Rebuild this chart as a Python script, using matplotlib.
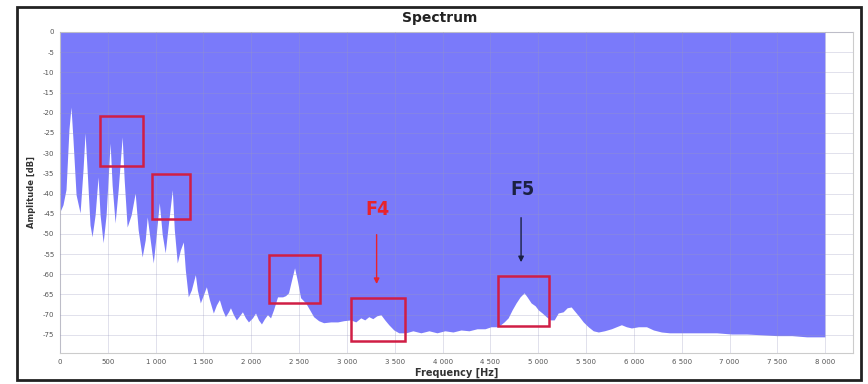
import matplotlib
matplotlib.use("Agg")
import matplotlib.pyplot as plt
from matplotlib.patches import Rectangle
from matplotlib.ticker import FuncFormatter

# ---- data ----
freq_hz = [0, 31, 63, 94, 115, 136, 168, 210, 241, 262, 283, 314, 335, 367, 398, 419, 451, 482,
           524, 545, 576, 608, 650, 671, 702, 744, 786, 817, 859, 891, 912, 943, 975, 1006,
           1038, 1069, 1100, 1132, 1174, 1195, 1226, 1258, 1289, 1310, 1341, 1373, 1415, 1436,
           1467, 1499, 1530, 1562, 1603, 1635, 1666, 1698, 1729, 1761, 1782, 1813, 1844, 1876,
           1907, 1939, 1970, 2012, 2044, 2075, 2106, 2138, 2169, 2201, 2232, 2274, 2327, 2358,
           2389, 2421, 2452, 2484, 2515, 2568, 2610, 2651, 2704, 2756, 2830, 2903, 2966, 3039,
           3092, 3144, 3186, 3228, 3270, 3311, 3354, 3395, 3437, 3490, 3542, 3616, 3689, 3773,
           3857, 3941, 4024, 4108, 4192, 4276, 4360, 4443, 4506, 4580, 4643, 4685, 4727, 4768,
           4810, 4852, 4883, 4925, 4967, 4999, 5041, 5083, 5124, 5166, 5208, 5260, 5302, 5344,
           5386, 5428, 5470, 5522, 5575, 5628, 5691, 5764, 5816, 5869, 5921, 5974, 6047, 6131,
           6204, 6288, 6372, 6466, 6602, 6739, 6864, 7022, 7179, 7336, 7493, 7650, 7807, 7996]
amp_db = [-44.5, -42.8, -39.0, -24.0, -18.6, -26.7, -40.3, -44.8, -34.0, -25.0, -34.0, -47.8,
          -50.7, -45.3, -35.9, -45.3, -52.2, -45.3, -27.5, -37.9, -47.3, -39.1, -26.0, -36.6,
          -48.3, -45.3, -39.9, -49.0, -55.7, -51.5, -45.8, -51.5, -57.2, -50.2, -42.3, -50.2,
          -54.7, -47.8, -39.1, -49.0, -57.2, -54.0, -52.0, -58.9, -65.6, -63.9, -60.1, -63.9,
          -67.1, -65.1, -63.1, -66.3, -69.6, -67.6, -66.3, -68.8, -70.5, -69.3, -68.3, -70.0,
          -71.3, -70.3, -69.3, -70.8, -71.8, -70.8, -69.6, -71.3, -72.3, -71.0, -70.0, -70.8,
          -68.8, -65.6, -65.6, -65.3, -64.6, -61.4, -58.4, -61.9, -65.8, -67.1, -68.8, -70.5,
          -71.5, -72.0, -71.8, -71.8, -71.5, -71.3, -71.8, -70.8, -71.3, -70.5, -71.0, -70.3,
          -70.0, -71.3, -72.5, -73.8, -74.5, -74.5, -74.0, -74.5, -74.0, -74.5, -74.0, -74.3,
          -73.8, -74.0, -73.5, -73.5, -73.0, -73.0, -71.8, -70.8, -68.8, -67.1, -65.6, -64.6,
          -65.6, -67.1, -67.8, -68.8, -69.6, -70.5, -71.3, -71.3, -69.6, -69.3, -68.3, -68.1,
          -69.3, -70.5, -71.8, -73.0, -74.0, -74.3, -74.0, -73.5, -73.0, -72.5, -73.0, -73.3,
          -73.0, -73.0, -73.8, -74.3, -74.5, -74.5, -74.5, -74.5, -74.5, -74.8, -74.8, -75.0,
          -75.2, -75.2, -75.5, -75.5]

x_ticks = list(range(0, 8001, 500))
y_ticks = list(range(0, -76, -5))

# highlight boxes: (f_start, f_end, db_low, db_high)
box_f0 = [419, 964, 2190, 3039, 4580]
box_f1 = [870, 1362, 2714, 3605, 5114]
box_d0 = [-33.2, -46.3, -67.1, -76.5, -72.8]
box_d1 = [-20.8, -35.1, -55.2, -65.8, -60.4]

labels = ["F4", "F5"]
label_f = [3320, 4830]
label_db = [-44.0, -39.1]
arrow_top = [-49.5, -45.3]
arrow_tip = [-63.1, -57.7]
label_colors = ["#e8232b", "#1b2142"]

# ---- figure ----
fig = plt.figure(figsize=(8.68, 3.84), dpi=100)
fig.patch.set_facecolor("white")
W, H = 868, 384
fig.patches.append(Rectangle((17 / W, 4 / H), (861 - 17) / W, (377 - 4) / H,
                             transform=fig.transFigure, fill=False,
                             edgecolor="#222222", linewidth=2.0, zorder=10))

ax = fig.add_axes([60 / W, (H - 353) / H, (853 - 60) / W, (353 - 32) / H])
ax.set_facecolor("white")
ax.set_xlim(0, 8290)
ax.set_ylim(-79.5, 0)

ax.fill_between(freq_hz, amp_db, 0, color="#7a7afa", linewidth=0, zorder=1)

ax.set_xticks(x_ticks)
ax.set_yticks(y_ticks)
ax.xaxis.set_major_formatter(FuncFormatter(lambda v, p: f"{int(v):,}".replace(",", " ")))
ax.yaxis.set_major_formatter(FuncFormatter(lambda v, p: f"{int(v)}"))
ax.tick_params(axis="both", labelsize=5, colors="#555555", length=0, pad=4)
ax.grid(True, color="#9a9ac0", linewidth=0.6, alpha=0.35, zorder=2)
ax.set_axisbelow(False)
for s in ax.spines.values():
    s.set_color("#cccccc")
    s.set_linewidth(0.8)

ax.set_xlabel("Frequency [Hz]", fontsize=7, fontweight="bold", color="#333333", labelpad=2)
ax.set_ylabel("Amplitude [dB]", fontsize=6, fontweight="bold", color="#333333", labelpad=5)
fig.text(440 / W, 1 - 18 / H, "Spectrum", ha="center", va="center", fontsize=10,
         fontweight="bold", color="#222222")

for f0, f1, d0, d1 in zip(box_f0, box_f1, box_d0, box_d1):
    ax.add_patch(Rectangle((f0, d0), f1 - f0, d1 - d0, fill=False, edgecolor="#d01e45",
                           linewidth=1.8, zorder=5))

for lab, lf, ld, at, tip, col in zip(labels, label_f, label_db, arrow_top, arrow_tip, label_colors):
    ax.text(lf, ld, lab, ha="center", va="center", fontsize=14, fontweight="bold",
            color=col, zorder=6, fontstretch="condensed")
    ax.annotate("", xy=(lf - 10, tip), xytext=(lf - 10, at),
                arrowprops=dict(arrowstyle="-|>", color=col, lw=1.0, mutation_scale=8),
                zorder=6)

fig.savefig("out.png", dpi=100)
